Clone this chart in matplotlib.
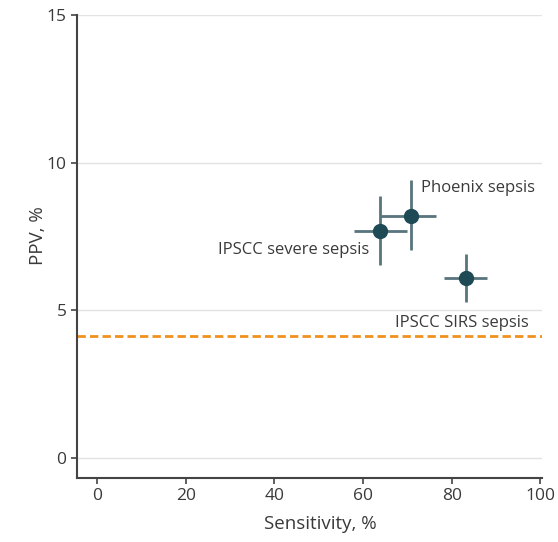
import matplotlib
matplotlib.use("Agg")
import matplotlib.pyplot as plt

labels = ["IPSCC severe sepsis", "Phoenix sepsis", "IPSCC SIRS sepsis"]
sens = [63.9, 70.7, 83.1]
sens_lo = [57.9, 63.8, 78.2]
sens_hi = [70.0, 76.5, 87.9]
ppv = [7.69, 8.20, 6.10]
ppv_lo = [6.54, 7.05, 5.29]
ppv_hi = [8.86, 9.40, 6.92]
baseline = 4.14
xticks = [0, 20, 40, 60, 80, 100]
yticks = [0, 5, 10, 15]

plt.rcParams['font.family'] = ['Open Sans', 'DejaVu Sans']
txt = '#3a3a3a'

fig = plt.figure(figsize=(5.58, 5.42), dpi=100)
ax = fig.add_axes([0.138, 0.118, 0.833, 0.854])

for y in yticks:
    ax.axhline(y, color='#e2e2e2', lw=1, zorder=0)

ax.axhline(baseline, color='#f0901e', lw=2, ls=(0, (3, 1.5)), zorder=1)

xerr = [[s - l for s, l in zip(sens, sens_lo)], [h - s for s, h in zip(sens, sens_hi)]]
yerr = [[p - l for p, l in zip(ppv, ppv_lo)], [h - p for p, h in zip(ppv, ppv_hi)]]
ax.errorbar(sens, ppv, xerr=xerr, yerr=yerr, fmt='o', color='#1e4a55',
            ecolor='#58747c', elinewidth=2, capsize=0, markersize=10, zorder=3)

fs = 12
ax.text(sens[1] + 2.4, ppv[1] + 0.95, labels[1], fontsize=fs, color=txt, va='center', ha='left')
ax.text(sens[0] - 2.5, ppv[0] - 0.65, labels[0], fontsize=fs, color=txt, va='center', ha='right')
ax.text(97.3, baseline + 0.44, labels[2], fontsize=fs, color=txt, va='center', ha='right')

ax.set_xlim(-4.5, 100.3)
ax.set_ylim(-0.68, 15)
ax.set_xticks(xticks)
ax.set_yticks(yticks)
ax.spines['top'].set_visible(False)
ax.spines['right'].set_visible(False)
for s in ['left', 'bottom']:
    ax.spines[s].set_color('#444444')
    ax.spines[s].set_linewidth(1.5)
ax.tick_params(axis='both', colors='#444444', labelcolor=txt, labelsize=12.5, length=4, width=1.2)
ax.set_xlabel('Sensitivity, %', fontsize=13.5, color=txt)
ax.set_ylabel('PPV, %', fontsize=13.5, color=txt)
ax.xaxis.set_label_coords(0.523, -0.10)
ax.xaxis.label.set_va('center')
ax.yaxis.set_label_coords(-0.084, 0.523)
ax.yaxis.label.set_va('center')

fig.savefig('out.png', dpi=100)
